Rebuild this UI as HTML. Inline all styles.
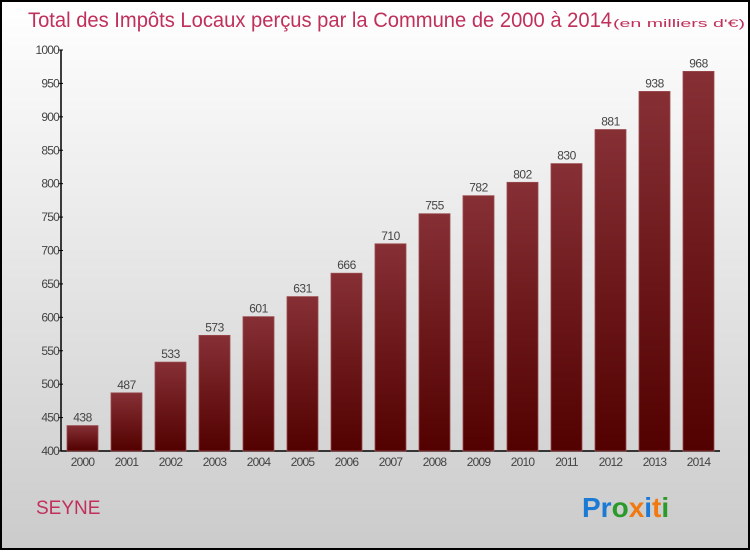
<!DOCTYPE html>
<html><head><meta charset="utf-8"><style>
body{margin:0;width:750px;height:550px;overflow:hidden}
svg text{font-family:"Liberation Sans",sans-serif}
</style></head><body>
<svg id="c" width="750" height="550" viewBox="0 0 750 550">
<defs>
<linearGradient id="bg" x1="0" y1="0" x2="0" y2="1"><stop offset="0" stop-color="#ffffff"/><stop offset="1" stop-color="#cbcbcb"/></linearGradient>
<linearGradient id="bar" x1="0" y1="0" x2="0" y2="1"><stop offset="0" stop-color="#863035"/><stop offset="1" stop-color="#520000"/></linearGradient>
</defs>
<rect x="1" y="1" width="748" height="548" fill="url(#bg)" stroke="#000" stroke-width="2"/>
<text x="28" y="27" font-size="21" fill="#c0305a" textLength="584" lengthAdjust="spacingAndGlyphs">Total des Impôts Locaux perçus par la Commune de 2000 à 2014</text>
<text x="613" y="27" font-size="11" fill="#c0305a" textLength="132" lengthAdjust="spacingAndGlyphs">(en milliers d'€)</text>
<g id="plot"></g>
<text x="36" y="514" font-size="19" fill="#c0305a">SEYNE</text>
<text x="582" y="517" font-size="28" font-weight="bold"><tspan fill="#1a7ad4">Pr</tspan><tspan fill="#2a9a2a">o</tspan><tspan fill="#f07a10">x</tspan><tspan fill="#1a7ad4">i</tspan><tspan fill="#f07a10">t</tspan><tspan fill="#2a9a2a">i</tspan></text>
</svg>
<script>
const years=["2000","2001","2002","2003","2004","2005","2006","2007","2008","2009","2010","2011","2012","2013","2014"];
const values=[438,487,533,573,601,631,666,710,755,782,802,830,881,938,968];
const ticks=[400,450,500,550,600,650,700,750,800,850,900,950,1000];
const NS="http://www.w3.org/2000/svg";
const g=document.getElementById('plot');
const x0=61,x1=720,yB=451,yT=50,vMin=400,vMax=1000;
const y=v=>yB-(v-vMin)/(vMax-vMin)*(yB-yT);
const step=44,bw=31,first=67;
const xs=i=>first+i*step;
function mk(t,a){const e=document.createElementNS(NS,t);for(const k in a)e.setAttribute(k,a[k]);g.appendChild(e);return e;}
let e=mk('line',{x1:x0,y1:yT,x2:x0,y2:yB,stroke:'#000','stroke-width':1.5});


e=mk('line',{x1:x0,y1:yB,x2:x1,y2:yB,stroke:'#000','stroke-width':1.5});


ticks.forEach(t=>{
 let l=mk('line',{x1:x0-3,y1:y(t),x2:x0+2,y2:y(t),stroke:'#000'});
 
 
 let tx=mk('text',{x:x0-2,y:y(t)+4,'font-size':12,'text-anchor':'end',fill:'#444','letter-spacing':'-0.8'});
 tx.textContent=t;
 
 
});
values.forEach((v,i)=>{
 let r=mk('rect',{x:xs(i),y:y(v),width:bw,height:yB-y(v),fill:'url(#bar)',stroke:'#9a4a4e','stroke-width':0.8});
 
 
 let t=mk('text',{x:xs(i)+bw/2,y:y(v)-4,'font-size':12,'text-anchor':'middle',fill:'#444','letter-spacing':'-0.5'});
 t.textContent=v;
 
 
 let xl=mk('text',{x:xs(i)+bw/2,y:yB+15,'font-size':12,'text-anchor':'middle',fill:'#444','letter-spacing':'-0.8'});
 xl.textContent=years[i];
 
 
});
</script>
</body></html>
